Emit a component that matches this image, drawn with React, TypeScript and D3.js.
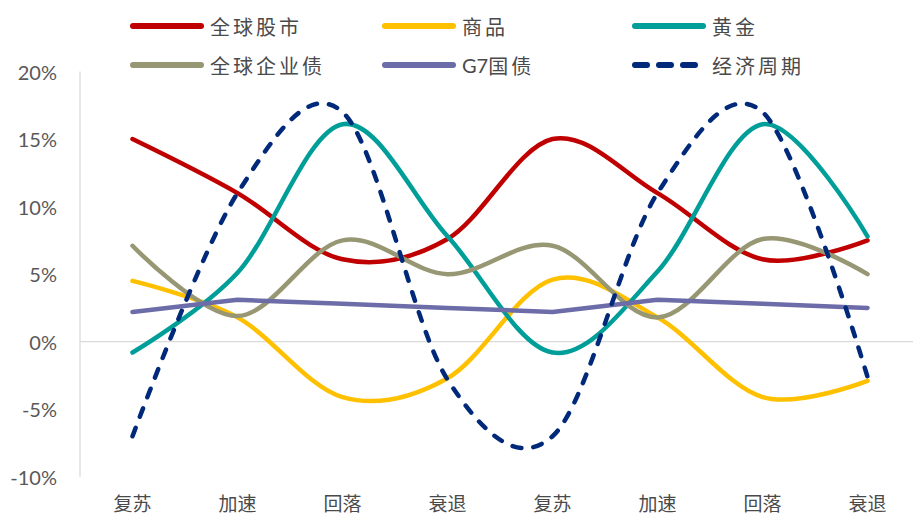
import React from "react";
import * as d3 from "d3";

const categories = ["复苏", "加速", "回落", "衰退", "复苏", "加速", "回落", "衰退"];
const yTicks = [-10, -5, 0, 5, 10, 15, 20];

const seriesNames = ["全球股市", "商品", "黄金", "全球企业债", "G7国债", "经济周期"];
const equities = [15, 11, 6.1, 7.6, 15, 11, 6.1, 7.5];
const commodities = [4.5, 1.8, -4.1, -2.7, 4.6, 1.8, -4.1, -2.9];
const gold = [-0.8, 5.1, 16.1, 7.8, -0.8, 5.2, 16.1, 7.8];
const corpBonds = [7.1, 1.9, 7.5, 5.0, 7.1, 1.8, 7.6, 5.0];
const g7Bonds = [2.2, 3.1, 2.8, 2.5, 2.2, 3.1, 2.8, 2.5];
const cycle = [-7, 11, 17, -2.8, -7, 11, 17, -2.6];

const seriesValues = [equities, commodities, gold, corpBonds, g7Bonds, cycle];
const colors = ["#C00000", "#FFC000", "#009E99", "#979774", "#6C6CA8", "#00297A"];
const smooth = [true, true, true, true, false, true];
const dashed = [false, false, false, false, false, true];

const W = 913;
const H = 519;
const CJK = "'Noto Sans CJK SC', sans-serif";

export default function App() {
  const x = d3
    .scalePoint<number>()
    .domain(categories.map((_, i) => i))
    .range([80, 920])
    .padding(0.5);
  const y = d3.scaleLinear().domain([-10, 20]).range([476.8, 71.5]);

  const legendPos = [
    [130, 26],
    [382, 26],
    [632, 26],
    [130, 65],
    [382, 65],
    [632, 65],
  ];

  return (
    <div style={{ position: "absolute", left: 0, top: 0 }}>
      <svg width={W} height={H} style={{ display: "block", background: "#fff" }}>
        <line x1={80} x2={80} y1={y(20)} y2={y(-10)} stroke="#D9D9D9" strokeWidth={1.2} />
        <line x1={80} x2={W} y1={y(0)} y2={y(0)} stroke="#D9D9D9" strokeWidth={1.2} />
        {yTicks.map((t) => (
          <text
            key={t}
            x={57}
            y={y(t)}
            textAnchor="end"
            dominantBaseline="central"
            fontFamily="Lato, 'Open Sans', sans-serif"
            fontSize={20}
            fill="#595959"
          >
            {t}%
          </text>
        ))}
        {categories.map((c, i) => (
          <text
            key={i}
            x={x(i)}
            y={502}
            textAnchor="middle"
            dominantBaseline="central"
            fontFamily={CJK}
            fontSize={19}
            fill="#4A4A4A"
          >
            {c}
          </text>
        ))}
        {seriesValues.map((vals, si) => {
          const line = d3
            .line<number>()
            .x((_, i) => x(i) as number)
            .y((v) => y(v))
            .curve(smooth[si] ? d3.curveCardinal.tension(0) : d3.curveLinear);
          return (
            <path
              key={si}
              d={line(vals) || ""}
              fill="none"
              stroke={colors[si]}
              strokeWidth={4.5}
              strokeLinecap="round"
              strokeLinejoin="round"
              strokeDasharray={dashed[si] ? "9 12" : undefined}
            />
          );
        })}
        {seriesNames.map((name, si) => {
          const [lx, ly] = legendPos[si];
          const latin = /^[A-Za-z0-9]+/.exec(name);
          return (
            <g key={name}>
              <line
                x1={lx + 3}
                x2={lx + (dashed[si] ? 66 : 71)}
                y1={ly}
                y2={ly}
                stroke={colors[si]}
                strokeWidth={6}
                strokeLinecap="round"
                strokeDasharray={dashed[si] ? "12 12" : undefined}
              />
              <text
                x={lx + 80}
                y={ly}
                dominantBaseline="central"
                fontFamily={CJK}
                fontSize={20}
                fill="#4A4A4A"
              >
                {latin ? (
                  <>
                    <tspan fontFamily="Lato, sans-serif">{latin[0]}</tspan>
                    <tspan letterSpacing={3}>{name.slice(latin[0].length)}</tspan>
                  </>
                ) : (
                  <tspan letterSpacing={3}>{name}</tspan>
                )}
              </text>
            </g>
          );
        })}
      </svg>
    </div>
  );
}
